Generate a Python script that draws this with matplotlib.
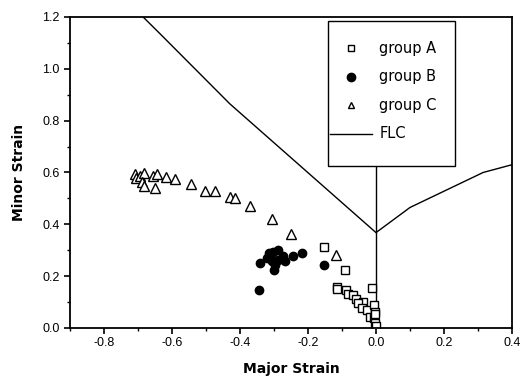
import matplotlib
matplotlib.use("Agg")
import matplotlib.pyplot as plt
from matplotlib.lines import Line2D

plt.rcParams['font.family'] = ['Liberation Sans', 'DejaVu Sans']

# group A (open squares)
a_major = [-0.152, -0.091, -0.116, -0.114, -0.088, -0.083, -0.069, -0.059, -0.037, -0.052,
           -0.042, -0.027, -0.013, -0.006, -0.003, -0.018, -0.006, -0.004, 0.0, -0.003]
a_minor = [0.312, 0.222, 0.158, 0.150, 0.147, 0.132, 0.128, 0.111, 0.102, 0.096,
           0.076, 0.070, 0.156, 0.089, 0.063, 0.044, 0.038, 0.018, 0.008, 0.055]

# group B (filled circles)
b_major = [-0.341, -0.344, -0.321, -0.314, -0.302, -0.287, -0.307, -0.297, -0.300, -0.287,
           -0.273, -0.268, -0.243, -0.219, -0.153]
b_minor = [0.250, 0.147, 0.270, 0.289, 0.295, 0.302, 0.257, 0.244, 0.225, 0.263,
           0.276, 0.257, 0.276, 0.289, 0.244]

# group C (open triangles)
c_major = [-0.709, -0.706, -0.694, -0.681, -0.689, -0.682, -0.655, -0.643, -0.650, -0.618,
           -0.591, -0.545, -0.503, -0.473, -0.429, -0.415, -0.371, -0.307, -0.251, -0.118]
c_minor = [0.596, 0.580, 0.585, 0.599, 0.563, 0.547, 0.588, 0.594, 0.541, 0.583,
           0.573, 0.554, 0.530, 0.528, 0.505, 0.502, 0.472, 0.422, 0.361, 0.283]

# forming limit curve
flc_major = [-0.685, -0.635, -0.43, 0.0, 0.10, 0.315, 0.40]
flc_minor = [1.20, 1.135, 0.865, 0.368, 0.465, 0.600, 0.630]
flc_vert_major = [0.0, 0.0]
flc_vert_minor = [0.0, 0.70]

fig = plt.figure(figsize=(5.21, 3.82), dpi=100)
ax = fig.add_subplot(111)
fig.subplots_adjust(left=0.1344, right=0.9827, bottom=0.1414, top=0.9555)

ax.plot(flc_major, flc_minor, color='black', lw=1.0)
ax.plot(flc_vert_major, flc_vert_minor, color='black', lw=1.0)
ax.plot(a_major, a_minor, ls='none', marker='s', ms=5.5, mfc='white', mec='black', mew=1.0)
ax.plot(b_major, b_minor, ls='none', marker='o', ms=6, mfc='black', mec='black')
ax.plot(c_major, c_minor, ls='none', marker='^', ms=6.5, mfc='white', mec='black', mew=1.0)

ax.set_xlim(-0.9, 0.4)
ax.set_ylim(0.0, 1.2)
ax.set_xticks([-0.8, -0.6, -0.4, -0.2, 0.0, 0.2, 0.4])
ax.set_xticks([-0.9, -0.7, -0.5, -0.3, -0.1, 0.1, 0.3], minor=True)
ax.set_yticks([0.0, 0.2, 0.4, 0.6, 0.8, 1.0, 1.2])
ax.set_yticks([0.1, 0.3, 0.5, 0.7, 0.9, 1.1], minor=True)
ax.set_xticklabels(['-0.8', '-0.6', '-0.4', '-0.2', '0.0', '0.2', '0.4'])
ax.set_yticklabels(['0.0', '0.2', '0.4', '0.6', '0.8', '1.0', '1.2'])
ax.tick_params(which='major', direction='out', length=4, width=1.2, labelsize=9)
ax.tick_params(axis='x', which='major', pad=2.5)
ax.tick_params(which='minor', direction='out', length=2.5, width=1.0)
for s in ax.spines.values():
    s.set_linewidth(1.3)

ax.set_xlabel('Major Strain', fontsize=10, fontweight='bold', family='DejaVu Sans', labelpad=9)
ax.set_ylabel('Minor Strain', fontsize=10, fontweight='bold', family='DejaVu Sans', labelpad=12)

handles = [
    Line2D([], [], ls='none', marker='s', ms=4, mfc='white', mec='black', mew=1.0),
    Line2D([], [], ls='none', marker='o', ms=6, mfc='black', mec='black'),
    Line2D([], [], ls='none', marker='^', ms=4.5, mfc='white', mec='black', mew=1.0),
    Line2D([], [], color='black', lw=1.0),
    Line2D([], [], ls='none'),
]
labels = ['group A', 'group B', 'group C', 'FLC', ' ']
leg = ax.legend(handles, labels, loc='upper left', bbox_to_anchor=(0.584, 0.5, 0.287, 0.487),
                mode='expand', borderaxespad=0, prop={'family': 'DejaVu Sans', 'size': 10.5},
                title=' ', title_fontsize=4,
                frameon=True, fancybox=False, edgecolor='black', framealpha=1,
                handlelength=2.9, handleheight=0.5, handletextpad=0.5,
                labelspacing=0.92, borderpad=0.1)
leg.get_texts()[4].set_fontsize(4)
leg.get_frame().set_linewidth(1.0)
leg.set_zorder(10)

fig.savefig('out.png', dpi=100)
